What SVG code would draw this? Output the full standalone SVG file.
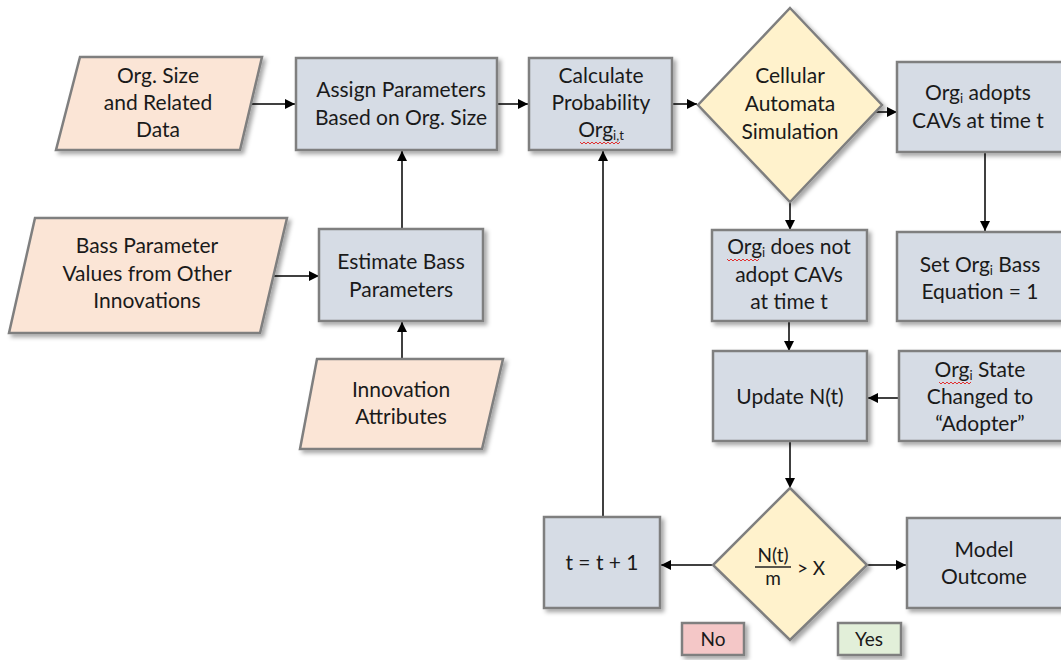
<svg xmlns="http://www.w3.org/2000/svg" width="1061" height="660" viewBox="0 0 1061 660">
<defs>
<filter id="sh" x="-10%" y="-10%" width="130%" height="130%">
<feDropShadow dx="3" dy="3" stdDeviation="2" flood-color="#000" flood-opacity="0.35"/>
</filter>
<marker id="ah" viewBox="0 0 10 10" refX="10" refY="5" markerWidth="10" markerHeight="10" markerUnits="userSpaceOnUse" orient="auto">
<path d="M0,0 L10,5 L0,10 z" fill="#000"/>
</marker>
</defs>
<style>
.box{fill:#d6dce5;stroke:#7f7f7f;stroke-width:2.5;filter:url(#sh)}
.io{fill:#fbe5d6;stroke:#7f7f7f;stroke-width:2.5;filter:url(#sh)}
.dec{fill:#fff2cc;stroke:#7f7f7f;stroke-width:2.5;filter:url(#sh)}
.no{fill:#f4c7c7;stroke:#7f7f7f;stroke-width:2.5;filter:url(#sh)}
.yes{fill:#e2efd9;stroke:#7f7f7f;stroke-width:2.5;filter:url(#sh)}
text{font-family:Lato,"Liberation Sans",sans-serif;font-size:21px;fill:#1a1a1a;text-anchor:middle}
.s{font-size:19px}
.c{fill:none;stroke:#000;stroke-width:1.5;marker-end:url(#ah)}
.sq{fill:none;stroke:#e03030;stroke-width:1}
</style>
<rect width="1061" height="660" fill="#fff"/>

<g id="connectors">
<path class="c" d="M250,104 L295,104"/>
<path class="c" d="M497,104 L528,104"/>
<path class="c" d="M672,104 L697,104"/>
<path class="c" d="M868,112 L897,112"/>
<path class="c" d="M272,276 L319,276"/>
<path class="c" d="M402,229 L402,151"/>
<path class="c" d="M402,359 L402,322"/>
<path class="c" d="M790,202 L790,230"/>
<path class="c" d="M985,152 L985,231"/>
<path class="c" d="M789,321 L789,351"/>
<path class="c" d="M899,398 L868,398"/>
<path class="c" d="M790,441 L790,488"/>
<path class="c" d="M713,565 L661,565"/>
<path class="c" d="M867,565 L906,565"/>
<path class="c" d="M603,517 L603,151"/>
</g>

<g id="n-orgsize">
<path class="io" d="M80,57 L262,57 L240,150 L56,150 Z"/>
<text x="158" y="83">Org. Size</text>
<text x="158" y="110">and Related</text>
<text x="158" y="137">Data</text>
</g>

<g id="n-assign">
<rect class="box" x="296" y="58" width="201" height="92"/>
<text x="401" y="97">Assign Parameters</text>
<text x="401" y="125">Based on Org. Size</text>
</g>

<g id="n-calc">
<rect class="box" x="529" y="58" width="143" height="92"/>
<text x="601" y="83">Calculate</text>
<text x="601" y="110">Probability</text>
<text x="601" y="137">Org<tspan font-size="13" dy="3">i,t</tspan></text>
<path class="sq" d="M580,142 l2,2 l2,-2 l2,2 l2,-2 l2,2 l2,-2 l2,2 l2,-2 l2,2 l2,-2 l2,2 l2,-2 l2,2 l2,-2 l2,2 l2,-2 l2,2 l2,-2 l2,2 l2,-2"/>
</g>

<g id="n-ca">
<path class="dec" d="M790,8 L882,105 L790,202 L698,105 Z"/>
<text x="790" y="83">Cellular</text>
<text x="790" y="111">Automata</text>
<text x="790" y="139">Simulation</text>
</g>

<g id="n-adopts">
<rect class="box" x="897" y="62" width="170" height="90"/>
<text x="978" y="100">Org<tspan font-size="13" dy="3">i</tspan><tspan dy="-3"> adopts</tspan></text>
<text x="978" y="128">CAVs at time t</text>
</g>

<g id="n-bassvals">
<path class="io" d="M35,218 L287,218 L260,333 L9,333 Z"/>
<text x="147" y="253">Bass Parameter</text>
<text x="147" y="281">Values from Other</text>
<text x="147" y="308">Innovations</text>
</g>

<g id="n-estimate">
<rect class="box" x="319" y="229" width="164" height="92"/>
<text x="401" y="269">Estimate Bass</text>
<text x="401" y="297">Parameters</text>
</g>

<g id="n-innov">
<path class="io" d="M317,359 L503,359 L482,449 L300,449 Z"/>
<text x="401" y="397">Innovation</text>
<text x="401" y="424">Attributes</text>
</g>

<g id="n-notadopt">
<rect class="box" x="712" y="230" width="155" height="91"/>
<text x="789" y="254">Org<tspan font-size="13" dy="3">i</tspan><tspan dy="-3"> does not</tspan></text>
<path class="sq" d="M727,259 l2,2 l2,-2 l2,2 l2,-2 l2,2 l2,-2 l2,2 l2,-2 l2,2 l2,-2 l2,2 l2,-2 l2,2 l2,-2 l2,2 l2,-2"/>
<text x="789" y="282">adopt CAVs</text>
<text x="789" y="309">at time t</text>
</g>

<g id="n-setbass">
<rect class="box" x="897" y="232" width="170" height="89"/>
<text x="980" y="272">Set Org<tspan font-size="13" dy="3">i</tspan><tspan dy="-3"> Bass</tspan></text>
<text x="980" y="299">Equation = 1</text>
</g>

<g id="n-update">
<rect class="box" x="713" y="351" width="154" height="90"/>
<text x="790" y="404">Update N(t)</text>
</g>

<g id="n-state">
<rect class="box" x="899" y="351" width="168" height="90"/>
<text x="980" y="377">Org<tspan font-size="13" dy="3">i</tspan><tspan dy="-3"> State</tspan></text>
<path class="sq" d="M939,382 l2,2 l2,-2 l2,2 l2,-2 l2,2 l2,-2 l2,2 l2,-2 l2,2 l2,-2 l2,2 l2,-2 l2,2 l2,-2 l2,2 l2,-2"/>
<text x="980" y="404">Changed to</text>
<text x="980" y="431">“Adopter”</text>
</g>

<g id="n-check">
<path class="dec" d="M790,488 L867,565 L790,640 L713,565 Z"/>
<text class="s" x="773" y="562">N(t)</text>
<line x1="755" y1="567" x2="791" y2="567" stroke="#222" stroke-width="1.3"/>
<text class="s" x="773" y="585">m</text>
<text class="s" x="811" y="575">&gt; X</text>
</g>

<g id="n-tinc">
<rect class="box" x="544" y="517" width="116" height="91"/>
<text x="602" y="570">t = t + 1</text>
</g>

<g id="n-outcome">
<rect class="box" x="907" y="518" width="160" height="90"/>
<text x="984" y="557">Model</text>
<text x="984" y="584">Outcome</text>
</g>

<g id="n-no">
<rect class="no" x="682" y="623" width="62" height="32"/>
<text class="s" x="713" y="646">No</text>
</g>

<g id="n-yes">
<rect class="yes" x="838" y="623" width="63" height="32"/>
<text class="s" x="869" y="646">Yes</text>
</g>
</svg>
